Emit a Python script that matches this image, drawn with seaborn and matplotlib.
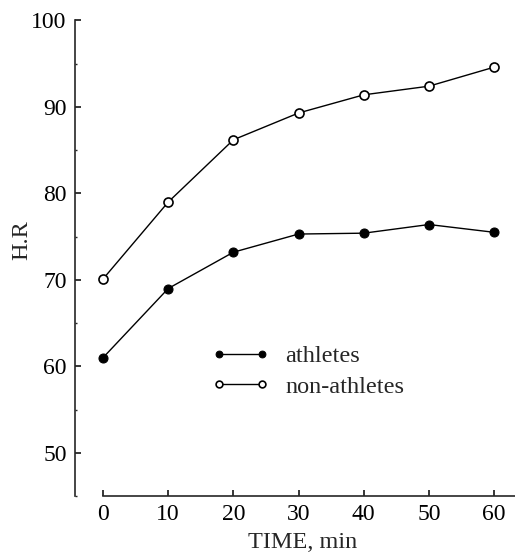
import matplotlib
matplotlib.use("Agg")
import matplotlib.pyplot as plt
import pandas as pd
import seaborn as sns
from matplotlib.ticker import MultipleLocator

# heart rate over time
time_min = [0, 10, 20, 30, 40, 50, 60]
athletes = [61.0, 69.0, 73.2, 75.3, 75.4, 76.4, 75.5]
non_athletes = [70.1, 79.0, 86.2, 89.3, 91.4, 92.4, 94.6]
x_ticks = [0, 10, 20, 30, 40, 50, 60]
y_ticks = [50, 60, 70, 80, 90, 100]


def main():
    sns.set_style("ticks")
    plt.rcParams["font.family"] = ["Liberation Serif", "DejaVu Serif"]

    df = pd.DataFrame({"time": time_min, "athletes": athletes, "non_athletes": non_athletes})

    fig = plt.figure(figsize=(5.15, 5.53), dpi=100)
    ax = fig.add_axes([75 / 515, 0.103, 440 / 515, 0.86])

    sns.lineplot(data=df, x="time", y="athletes", ax=ax, color="black", lw=1.0,
                 marker="o", markersize=6.5, markerfacecolor="black",
                 markeredgecolor="black", label="athletes")
    sns.lineplot(data=df, x="time", y="non_athletes", ax=ax, color="black", lw=1.0,
                 marker="o", markersize=6.5, markerfacecolor="white",
                 markeredgecolor="black", markeredgewidth=1.2, label="non-athletes")

    ax.set_xlim(-4.3, 63.2)
    ax.set_ylim(45, 100)
    ax.set_xticks(x_ticks)
    ax.set_yticks(y_ticks)
    ax.yaxis.set_minor_locator(MultipleLocator(5))

    for side in ["top", "right"]:
        ax.spines[side].set_visible(False)
    ax.spines["bottom"].set_bounds(0, 63.2)
    ax.spines["left"].set_linewidth(1.2)
    ax.spines["bottom"].set_linewidth(1.2)

    ax.tick_params(axis="both", which="major", direction="in", length=4.5,
                   width=1.1, labelsize=17, colors="black", pad=6)
    ax.tick_params(axis="y", which="minor", direction="in", length=1.5, width=1)

    ax.set_xlabel("TIME, min", fontsize=17.5)
    ax.set_ylabel("H.R", fontsize=17.5)
    ax.xaxis.set_label_coords(0.517, -0.075)
    ax.yaxis.set_label_coords(-0.098, 0.538)

    ax.legend(loc="upper left", bbox_to_anchor=(0.31, 0.317), frameon=False,
              numpoints=2, markerscale=0.75, handlelength=2.4,
              handletextpad=0.65, labelspacing=0.35, borderpad=0,
              borderaxespad=0, fontsize=17.5)

    fig.savefig("out.png", dpi=100)
    plt.close(fig)


if __name__ == "__main__":
    main()
